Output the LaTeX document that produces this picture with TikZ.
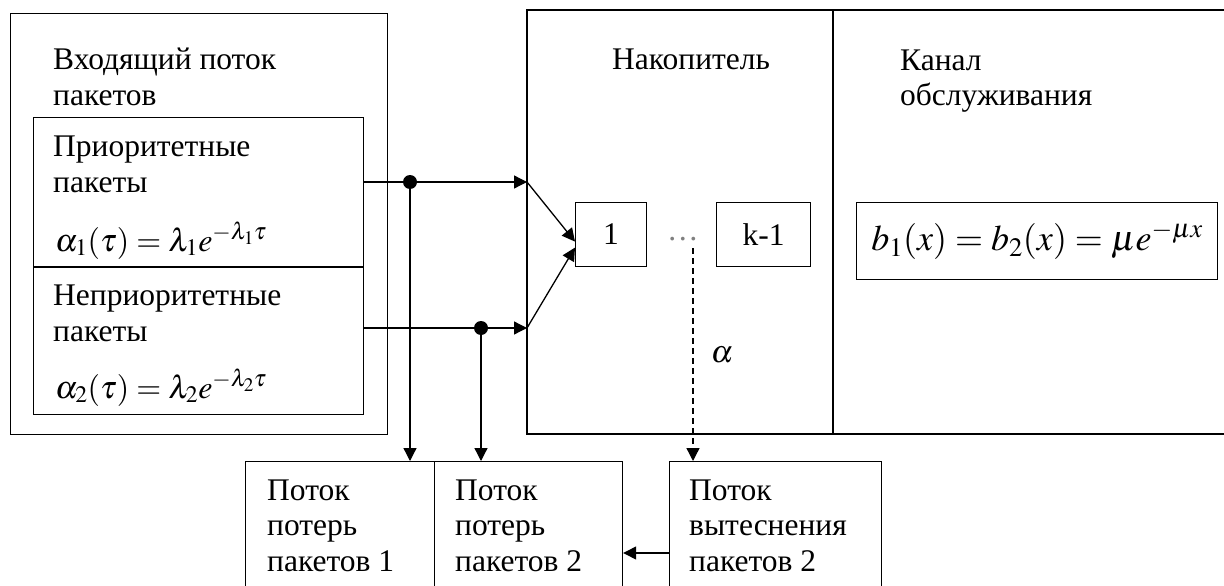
\documentclass[tikz,border=0pt]{standalone}
\usepackage{mathptmx}
\usepackage{fontspec}
\setmainfont{Liberation Serif}
\usepackage{tikz}
\usetikzlibrary{arrows.meta,positioning}

\newcommand\lblfont{\fontsize{31.5}{35.5}\selectfont}
\newcommand\eqfont{\fontsize{32}{38}\selectfont}
\newcommand\srvfont{\fontsize{36}{40}\selectfont}

\tikzset{
  box/.style={draw,line width=1.2pt,inner sep=0pt,anchor=north west},
  lbl/.style={anchor=base west,inner sep=0pt,align=left,font=\lblfont},
  eq/.style={anchor=base west,inner sep=0pt,font=\eqfont},
  dot/.style={circle,fill,inner sep=0pt,minimum size=14pt},
  flow/.style={line width=1.3pt,-{Triangle[length=13pt,width=13pt]}}
}

\begin{document}
\begin{tikzpicture}[x=1pt,y=-1pt]
  \clip (0,0) rectangle (1224,586);
  \fill[white] (0,0) rectangle (1224,586);
  % incoming flow (labels are placed by the baseline of their last line)
  \node[box,minimum width=377pt,minimum height=421pt] (inflow) at (10,13) {};
  \node[lbl] (inflowlbl) at (53,105) {Входящий поток\\пакетов};
  \node[box,minimum width=330pt,minimum height=149pt] (prio) at (33,117) {};
  \node[box,minimum width=330pt,minimum height=147pt] (nonprio) [below=0pt of prio.south west,anchor=north west] {};
  \node[lbl] (priolbl) at (53,192) {Приоритетные\\пакеты};
  \node[eq] (prioeq) at (55,251) {$\alpha_1(\tau) = \lambda_1 e^{-\lambda_1\tau}$};
  \node[lbl] (nonpriolbl) at (53,341) {Неприоритетные\\пакеты};
  \node[eq] (nonprioeq) at (55,398) {$\alpha_2(\tau) = \lambda_2 e^{-\lambda_2\tau}$};
  % storage and channel
  \draw[line width=1.2pt] (1230,10) -- (527,10) -- (527,434) -- (1230,434);
  \draw[line width=1.2pt] (833,10) -- (833,434);
  \node[lbl] (storelbl) at (612,70) {Накопитель};
  \node[lbl] (chanlbl) at (900,106) {Канал\\обслуживания};
  \node[box,minimum width=71pt,minimum height=64pt,font=\lblfont] (one) at (575,202) {1};
  \node[box,minimum width=94pt,minimum height=64pt,font=\lblfont] (last) at (716,202) {k-1};
  \node[lbl,text=gray] (gap) at (667,240) {\dots};
  \node[box,minimum width=361pt,minimum height=77pt,font=\srvfont] (serv) at (856,202) {$b_1(x) = b_2(x) = \mu e^{-\mu x}$};
  % losses
  \node[box,minimum width=189pt,minimum height=140pt] (lost1) at (245,461) {};
  \node[box,minimum width=188pt,minimum height=140pt] (lost2) at (434,461) {};
  \node[box,minimum width=212pt,minimum height=140pt] (push) at (669,461) {};
  \node[lbl] (lost1lbl) at (267,571) {Поток\\потерь\\пакетов 1};
  \node[lbl] (lost2lbl) at (455,571) {Поток\\потерь\\пакетов 2};
  \node[lbl] (pushlbl) at (689,571) {Поток\\вытеснения\\пакетов 2};
  % connectors
  \coordinate (in1) at (527,182);
  \coordinate (in2) at (527,328);
  \coordinate (evict) at (693,248);
  \node[dot] (j1) at (410,182) {};
  \node[dot] (j2) at (481,328) {};
  \path[flow]
  (prio.east |- in1) edge (in1)
  (nonprio.east |- in2) edge (in2)
  (in1) edge ([yshift=-7pt]one.west)
  (in2) edge ([yshift=-13pt]one.west)
  (j1) edge (j1 |- lost1.north)
  (j2) edge (j2 |- lost2.north)
  (evict) edge[dash pattern=on 6pt off 4pt] node[right=14pt,font=\lblfont] {$\alpha$} (evict |- push.north)
  (push.west |- 0,553) edge (lost2.east |- 0,553)
  ;
\end{tikzpicture}
\end{document}
